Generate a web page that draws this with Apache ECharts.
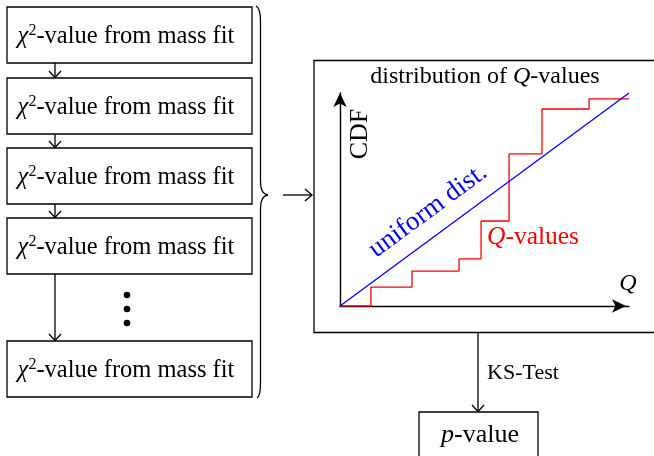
<!DOCTYPE html>
<html>
<head>
<meta charset="utf-8">
<script src="https://cdn.jsdelivr.net/npm/echarts@6/dist/echarts.min.js"></script>
<style>html,body{margin:0;padding:0;background:#fff}#c{width:654px;height:456px}</style>
</head>
<body>
<div id="c"></div>
<script>
// Data: step CDF of Q-values (normalised Q and CDF)
const qValuesX = [0, 0.107, 0.249, 0.412, 0.488, 0.585, 0.699, 0.862, 1.0];
const qValuesY = [0, 0.089, 0.164, 0.221, 0.399, 0.714, 0.925, 0.972, 0.972];
const uniformX = [0, 1];
const uniformY = [0, 1];
const boxLabel = '-value from mass fit';
const titleText = 'distribution of ';
const ksLabel = 'KS-Test';

const chart = echarts.init(document.getElementById('c'), null, {renderer: 'canvas'});
const SERIF = '"Liberation Serif", "DejaVu Serif", serif';
const FS = 24.5;
const lw = 1.3;
const black = '#000';

const boxes = [[7, 63], [78, 134], [148, 204], [218, 274], [341, 397]];
const graphics = [];

boxes.forEach(function (b) {
  graphics.push({type: 'rect', shape: {x: 7, y: b[0], width: 245, height: b[1] - b[0]},
    style: {fill: '#fff', stroke: black, lineWidth: lw}});
  graphics.push({type: 'text', x: 126, y: (b[0] + b[1]) / 2 + 1,
    style: {
      text: '{i|χ}{s|2}{n|' + boxLabel + '}',
      align: 'center', verticalAlign: 'middle',
      rich: {
        i: {fontFamily: SERIF, fontSize: FS, fontStyle: 'italic', fill: black, lineHeight: 27, verticalAlign: 'bottom'},
        s: {fontFamily: SERIF, fontSize: 16, fill: black, lineHeight: 27, verticalAlign: 'top'},
        n: {fontFamily: SERIF, fontSize: FS, fill: black, lineHeight: 27, verticalAlign: 'bottom'}
      }
    }});
});

function downArrow(x, y1, y2) {
  graphics.push({type: 'line', shape: {x1: x, y1: y1, x2: x, y2: y2 - 0.5}, style: {stroke: black, lineWidth: lw}});
  graphics.push({type: 'polyline', shape: {points: [[x - 6, y2 - 7], [x, y2 - 0.5], [x + 6, y2 - 7]]},
    style: {stroke: black, lineWidth: lw, fill: null}});
}
downArrow(55, 63, 78);
downArrow(55, 134, 148);
downArrow(55, 204, 218);
downArrow(55, 274, 341);
downArrow(478, 333, 412);

[295, 309, 323].forEach(function (y) {
  graphics.push({type: 'circle', shape: {cx: 127, cy: y, r: 3.3}, style: {fill: black}});
});

// brace
function quad(x1, y1, cx, cy, x2, y2) {
  graphics.push({type: 'bezierCurve', shape: {x1: x1, y1: y1, cpx1: cx, cpy1: cy, x2: x2, y2: y2},
    style: {stroke: black, lineWidth: lw, fill: null}});
}
quad(256, 6, 260.5, 8, 260.5, 22);
graphics.push({type: 'line', shape: {x1: 260.5, y1: 22, x2: 260.5, y2: 182}, style: {stroke: black, lineWidth: lw}});
quad(260.5, 182, 260.5, 194, 268, 195);
quad(268, 195, 260.5, 196, 260.5, 208);
graphics.push({type: 'line', shape: {x1: 260.5, y1: 208, x2: 260.5, y2: 383}, style: {stroke: black, lineWidth: lw}});
quad(260.5, 383, 260.5, 396, 257, 398);

// arrow to right box
graphics.push({type: 'line', shape: {x1: 283, y1: 195, x2: 312, y2: 195}, style: {stroke: black, lineWidth: lw}});
graphics.push({type: 'polyline', shape: {points: [[305, 189], [312, 195], [305, 201]]}, style: {stroke: black, lineWidth: lw, fill: null}});

// right box
graphics.push({type: 'rect', z: -1, shape: {x: 314, y: 60.5, width: 345, height: 272},
  style: {fill: null, stroke: black, lineWidth: lw}});
graphics.push({type: 'text', x: 485, y: 77, style: {
  text: '{n|' + titleText + '}{i|Q}{n|-values}', align: 'center', verticalAlign: 'middle',
  rich: {n: {fontFamily: SERIF, fontSize: 24, fill: black}, i: {fontFamily: SERIF, fontSize: 24, fontStyle: 'italic', fill: black}}}});

// labels
graphics.push({type: 'text', x: 360, y: 134, rotation: Math.PI / 2, style: {
  text: 'CDF', fontFamily: SERIF, fontSize: 26, fill: black, align: 'center', verticalAlign: 'middle'}});
graphics.push({type: 'text', x: 628, y: 284, style: {
  text: 'Q', fontFamily: SERIF, fontSize: 24, fontStyle: 'italic', fill: black, align: 'center', verticalAlign: 'middle'}});
graphics.push({type: 'text', x: 533, y: 237, style: {
  text: '{i|Q}{n|-values}', align: 'center', verticalAlign: 'middle',
  rich: {n: {fontFamily: SERIF, fontSize: 25.5, fill: '#ff0000'}, i: {fontFamily: SERIF, fontSize: 25.5, fontStyle: 'italic', fill: '#ff0000'}}}});
graphics.push({type: 'text', x: 428, y: 211, rotation: Math.atan2(213, 289), style: {
  text: 'uniform dist.', fontFamily: SERIF, fontSize: 27, fill: '#0000ff', align: 'center', verticalAlign: 'middle'}});

// KS + p-value
graphics.push({type: 'text', x: 523, y: 373, style: {
  text: ksLabel, fontFamily: SERIF, fontSize: 22, fill: black, align: 'center', verticalAlign: 'middle'}});
graphics.push({type: 'rect', shape: {x: 419, y: 412, width: 119, height: 60}, style: {fill: '#fff', stroke: black, lineWidth: lw}});
graphics.push({type: 'text', x: 480, y: 435, style: {
  text: '{i|p}{n|-value}', align: 'center', verticalAlign: 'middle',
  rich: {n: {fontFamily: SERIF, fontSize: 26, fill: black}, i: {fontFamily: SERIF, fontSize: 26, fontStyle: 'italic', fill: black}}}});

chart.setOption({
  animation: false,
  backgroundColor: '#fff',
  grid: {left: 340, top: 93, width: 289, height: 213, containLabel: false},
  xAxis: {type: 'value', min: 0, max: 1, splitLine: {show: false}, axisTick: {show: false}, axisLabel: {show: false},
    axisLine: {show: true, lineStyle: {color: black, width: 1.4}, symbol: ['none', 'arrow'], symbolSize: [10, 14], symbolOffset: [0, -3]}},
  yAxis: {type: 'value', min: 0, max: 1, splitLine: {show: false}, axisTick: {show: false}, axisLabel: {show: false},
    axisLine: {show: true, lineStyle: {color: black, width: 1.4}, symbol: ['none', 'arrow'], symbolSize: [10, 14], symbolOffset: [0, 0]}},
  series: [
    {type: 'line', data: uniformX.map(function (x, i) { return [x, uniformY[i]]; }), showSymbol: false,
      lineStyle: {color: '#0000ff', width: 1.3}, z: 3},
    {type: 'line', step: 'end', data: qValuesX.map(function (x, i) { return [x, qValuesY[i]]; }), showSymbol: false,
      lineStyle: {color: '#ff0000', width: 1.3}, z: 2}
  ],
  graphic: graphics
});
</script>
</body>
</html>
